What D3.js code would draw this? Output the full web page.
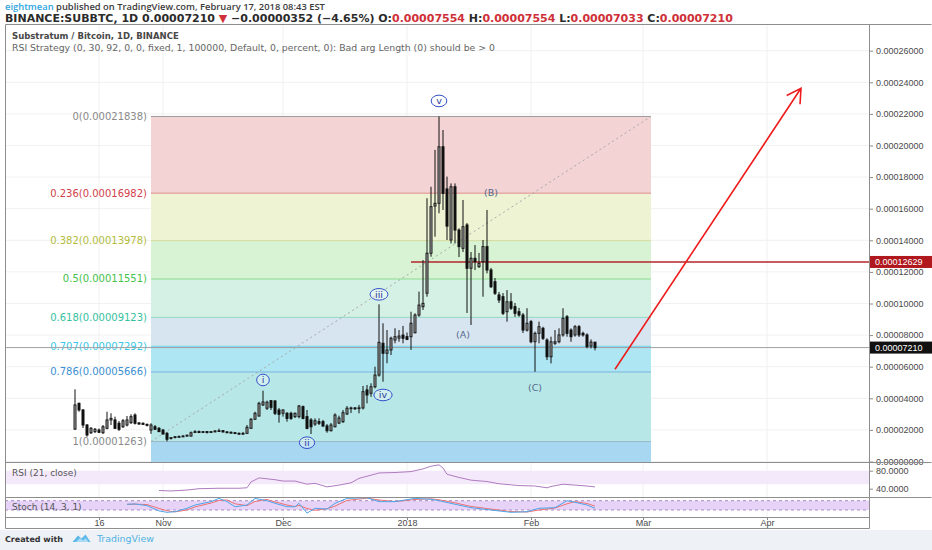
<!DOCTYPE html>
<html>
<head>
<meta charset="utf-8">
<title>SUBBTC 1D</title>
<script src="https://cdn.jsdelivr.net/npm/d3@7"></script>
<style>
  body { margin: 0; background: #fff; }
  svg { display: block; }
</style>
</head>
<body>
<svg id="chart" width="932" height="550"></svg>
<script>
// prices are in satoshi (1e-8 BTC), one candle per day from firstDay
const firstDay = '2017-10-10';

const opens = [
  2050,3680,3260,2310,1820,1890,1990,1820,2100,2630,
  2630,2420,2200,2310,2460,2940,2440,2420,2350,1990,
  2200,2100,1990,1780,1490,1540,1570,1570,1610,1610,
  1840,1890,1870,1890,1850,1890,1900,1950,1870,1850,
  1820,1780,1760,1780,2100,2670,2880,3580,3370,3850,
  3830,3260,3050,3050,3050,2840,2840,3470,2840,2630,
  2370,2520,2520,2250,1950,2200,2430,2520,3010,3370,
  3390,3370,3390,4530,4320,4730,5470,7480,6850,7060,
  7690,7810,8000,7900,7900,8150,9270,9800,10650,13180,
  16170,16340,19920,17250,14020,17390,14650,13490,14970,12230,
  12860,12330,12650,13600,12120,11380,10540,10430,9480,10110,
  9800,9480,9270,8320,8850,7580,8110,8430,7690,6630,
  7480,7580,8010,9160,8320,8010,8530,8110,8010,7310,
  7554];
const highs = [
  4570,3730,3320,2370,2180,2120,2090,2310,3150,3050,
  2840,2560,2690,2880,2990,3050,2500,2470,2400,2420,
  2310,2180,2060,1870,1550,1610,1650,1680,1710,1900,
  1990,1960,1930,1930,1930,1990,2080,1990,1930,1900,
  1870,1840,1870,2310,2750,3150,3780,4480,3850,3890,
  3890,3390,3300,3130,3150,3100,3580,3540,3260,2750,
  2730,2730,2630,2370,2440,3050,2900,3260,3510,3470,
  3450,3580,4780,4840,4950,6000,9950,8750,8320,7900,
  8430,8320,8580,8160,9480,9380,10750,12750,16660,17390,
  19720,21838,20980,18030,17600,17600,14760,16550,15090,13260,
  13700,13200,14020,15920,12250,11610,10730,10660,10850,10660,
  10030,9720,9400,9700,8960,8220,8850,8530,7800,7900,
  8320,8430,9700,9270,8430,8640,8640,8220,8110,7730,
  7554];
const lows = [
  2000,3150,2120,1570,1740,1800,1800,1740,2040,2310,
  2060,1930,2120,2220,2370,2340,2340,2310,2220,1750,
  1990,1870,1710,1270,1390,1460,1520,1550,1580,1580,
  1800,1800,1800,1770,1800,1840,1870,1840,1800,1770,
  1740,1710,1680,1740,2060,2630,2840,3510,3260,3260,
  2940,2460,2840,2520,2630,2750,2730,2670,2040,1740,
  2250,2310,2180,1820,1900,2160,2370,2440,2940,3070,
  3260,3050,3290,3680,4100,4630,5370,5050,6220,6740,
  7480,7580,7480,7680,7060,8110,9160,9590,10430,12960,
  14230,15710,15920,14020,13800,13800,12940,13260,9400,8640,
  12120,12250,10430,11910,10980,10540,10030,9270,8850,9590,
  9160,9160,8130,8220,7480,5680,7480,7690,6420,6210,
  7370,7480,7900,7900,7580,7900,7880,7900,7160,7160,
  7033];
const closes = [
  3580,3260,2310,1680,2100,2040,1850,2200,2630,2730,
  2100,2040,2580,2630,2840,2420,2370,2350,2290,2310,
  2040,1890,1740,1410,1510,1570,1580,1610,1660,1820,
  1890,1870,1890,1850,1890,1930,1950,1870,1850,1820,
  1780,1760,1780,2160,2670,3050,3680,3770,3750,3430,
  3050,2990,3260,2730,2730,3050,3510,2730,2100,2200,
  2580,2420,2250,1950,2310,2940,2750,3090,3370,3390,
  3370,3400,4420,4210,4730,5470,7540,6850,7060,7800,
  7900,7940,7800,7730,8750,9270,9900,10010,13180,16130,
  16340,19920,16970,14900,17390,14650,13600,14860,12230,12860,
  12650,12540,13600,12120,11060,10650,10220,9380,10110,9700,
  9380,9270,8320,8750,7580,8110,8530,7800,6630,7580,
  7580,8010,9060,8110,7900,8530,8010,8010,7270,7560,
  7210];

// indicator readings, keyed by candle index
const rsiDays   = [21,24,28,31,36,41,43,44,46,48,50,52,55,58,60,63,66,69,71,74,76,80,84,87,89,91,92,93,96,99,103,106,111,115,118,119,122,125,128,130];
const rsiValues = [36,35,37,40,41,41,42,55,64,62,60,57,57,50,52,44,48,53,63,70,75,76,78,84,90,93,86,72,65,59,56,51,47,46,42,45,50,48,46,44];
const stochDays = [13,15,18,21,23,25,28,30,34,36,38,40,43,45,48,50,53,55,56,58,60,63,65,68,73,76,80,85,89,91,95,99,104,109,113,116,120,123,125,128,130];
const stochK    = [57,59,48,14,5,9,31,52,74,95,74,41,52,95,80,63,41,41,63,0,31,26,63,95,99,74,74,95,89,80,57,35,20,5,9,31,35,80,70,52,31];
const stochD    = [56,58,55,30,15,8,20,40,65,82,85,60,48,75,88,72,52,42,50,30,18,28,45,82,96,85,74,88,92,86,66,43,26,10,7,20,33,60,74,62,45];

const timeTicks  = ['2017-10-16','2017-11-01','2017-12-01','2018-01-01','2018-02-01','2018-03-01','2018-04-01'];
const timeLabels = ['16','Nov','Dec','2018','Feb','Mar','Apr'];
const priceTicks = d3.range(0, 26001, 2000);

// fib retracement levels and the prices printed next to them
const fibLevels = [0, 0.236, 0.382, 0.5, 0.618, 0.707, 0.786, 1];
const fibPrices = [21838, 16982, 13978, 11551, 9123, 7292, 5666, 1263];
const fibStart = '2017-10-29', fibEnd = '2018-03-03';

const waveLabels = ['i','ii','iii','iv','v','(A)','(B)','(C)'];
const waveDates  = ['2017-11-26','2017-12-07','2017-12-25','2017-12-26','2018-01-09','2018-01-15','2018-01-22','2018-02-02'];
const wavePrices = [5160, 1190, 10580, 4210, 22820, 8010, 17040, 4700];

const targetPrice = 12629, targetFrom = '2018-01-02';
const lastPrice = 7210;
const arrowDates  = ['2018-02-22', '2018-04-09T12:00:00Z'];
const arrowPrices = [5835, 23620];

// ---------------------------------------------------------------

const frame = {left: 5, right: 869, axisRight: 931, top: 24,
               mainBottom: 462, rsiBottom: 497, stochBottom: 517, axisBottom: 528};
const axisFont = '"Liberation Sans", Arial, sans-serif';
const labelFont = '"DejaVu Sans", Verdana, sans-serif';
const fmtPrice = d => (d / 1e8).toFixed(8);

const svg = d3.select('#chart');
const defs = svg.append('defs');

function clip(id, x0, y0, x1, y1) {
  defs.append('clipPath').attr('id', id).append('rect')
      .attr('x', x0).attr('y', y0).attr('width', x1 - x0).attr('height', y1 - y0);
  return 'url(#' + id + ')';
}
const mainClip  = clip('c-main', frame.left, frame.top, frame.right, frame.mainBottom);
const rsiClip   = clip('c-rsi', frame.left, frame.mainBottom, frame.right, frame.rsiBottom);
const stochClip = clip('c-stoch', frame.left, frame.rsiBottom, frame.right, frame.stochBottom);
const stochAxisClip = clip('c-stoch-axis', frame.right, frame.rsiBottom + 1, frame.axisRight + 1, frame.stochBottom);

const x = d3.scaleUtc()
    .domain([d3.isoParse('2017-10-01'), d3.isoParse('2018-04-01')])
    .range([39, 767]);
const y = d3.scaleLinear().domain([0, 26000]).range([461.5, 50.7]);
const yRsi = d3.scaleLinear().domain([40, 80]).range([488.7, 470.7]);
const yStoch = d3.scaleLinear().domain([0, 100]).range([513.1, 497.6]);

const day0 = d3.isoParse(firstDay);
const candles = opens.map((o, i) => ({
  date: d3.utcDay.offset(day0, i), o: o, h: highs[i], l: lows[i], c: closes[i]
}));

// footer band
svg.append('rect').attr('x', 0).attr('y', 530).attr('width', 932).attr('height', 20).attr('fill', '#eef1f5');

// grid
const grid = svg.append('g').attr('clip-path', mainClip);
grid.selectAll('line.h').data(priceTicks).enter().append('line')
    .attr('x1', frame.left).attr('x2', frame.right)
    .attr('y1', d => y(d)).attr('y2', d => y(d))
    .attr('stroke', '#f1f1f1');
svg.append('g').selectAll('line').data(timeTicks).enter().append('line')
    .attr('x1', d => x(d3.isoParse(d))).attr('x2', d => x(d3.isoParse(d)))
    .attr('y1', frame.top).attr('y2', frame.stochBottom)
    .attr('stroke', '#f0f0f0');

// fibonacci retracement
const fibFills  = ['#f3d3d3','#eef3d3','#d7f3d4','#d5f1e6','#d7e5f1','#aee7f3','#b8e7e7','#a8d8f1'];
const fibLines  = ['#9a9a9a','#e08a8a','#d3da9a','#8fdc91','#8fd9c4','#6fd3ea','#7ab3de','#9ab7c8'];
const fibText   = ['#8a8a8a','#d2404a','#b3bd3c','#44c24a','#36bf9f','#3dc7e8','#3b8fd2','#8a8a8a'];
const fibX0 = x(d3.isoParse(fibStart)), fibX1 = x(d3.isoParse(fibEnd));
// the band under level 1 runs on to the 1.618 extension, off the pane
const fibBelow = fibPrices[7] - 0.618 * (fibPrices[0] - fibPrices[7]);

const fib = svg.append('g').attr('clip-path', mainClip);
fibPrices.forEach((p, i) => {
  const next = i < fibPrices.length - 1 ? fibPrices[i + 1] : fibBelow;
  fib.append('rect')
      .attr('x', fibX0).attr('width', fibX1 - fibX0)
      .attr('y', y(p)).attr('height', y(next) - y(p))
      .attr('fill', fibFills[i]);
});
fib.selectAll('line.lvl').data(fibPrices).enter().append('line')
    .attr('x1', fibX0).attr('x2', fibX1)
    .attr('y1', d => y(d)).attr('y2', d => y(d))
    .attr('stroke', (d, i) => fibLines[i]).attr('stroke-width', 1);
fib.append('line')
    .attr('x1', fibX0).attr('y1', y(fibPrices[7])).attr('x2', fibX1).attr('y2', y(fibPrices[0]))
    .attr('stroke', '#a8a8a8').attr('stroke-dasharray', '2,3');

// last price line
svg.append('line')
    .attr('x1', frame.left).attr('x2', frame.right)
    .attr('y1', y(lastPrice)).attr('y2', y(lastPrice))
    .attr('stroke', '#a0a0a0');

fib.selectAll('text').data(fibLevels).enter().append('text')
    .attr('x', fibX0 - 4).attr('y', (d, i) => y(fibPrices[i])).attr('dy', '0.35em')
    .attr('text-anchor', 'end')
    .style('font-family', labelFont).style('font-size', '10px')
    .attr('fill', (d, i) => fibText[i])
    .text((d, i) => d + '(' + fmtPrice(fibPrices[i]) + ')');

// target level
svg.append('line')
    .attr('x1', x(d3.isoParse(targetFrom))).attr('x2', frame.right)
    .attr('y1', y(targetPrice)).attr('y2', y(targetPrice))
    .attr('stroke', '#b3262b').attr('stroke-width', 1.5);

// candles
const cg = svg.append('g').attr('clip-path', mainClip);
cg.selectAll('line').data(candles).enter().append('line')
    .attr('x1', d => x(d.date)).attr('x2', d => x(d.date))
    .attr('y1', d => y(d.h)).attr('y2', d => y(d.l))
    .attr('stroke', '#111').attr('stroke-width', 1);
cg.selectAll('rect').data(candles).enter().append('rect')
    .attr('x', d => x(d.date) - 1).attr('width', 2)
    .attr('y', d => y(Math.max(d.o, d.c)))
    .attr('height', d => Math.max(Math.abs(y(d.o) - y(d.c)), 0.8))
    .attr('fill', d => d.c >= d.o ? '#a4a4a4' : '#111')
    .attr('stroke', d => d.c >= d.o ? '#1b1b1b' : '#111')
    .attr('stroke-width', 1);

// elliott wave labels
const wg = svg.append('g').attr('clip-path', mainClip);
waveLabels.forEach((lab, i) => {
  const px = x(d3.isoParse(waveDates[i])), py = y(wavePrices[i]);
  const circled = lab[0] !== '(';
  const g = wg.append('g');
  const t = g.append('text')
      .attr('x', px).attr('y', py).attr('dy', '0.35em').attr('text-anchor', 'middle')
      .style('font-family', labelFont).style('font-size', '9.5px')
      .attr('fill', circled ? '#2b3a9e' : '#56698c')
      .text(lab);
  if (circled) {
    const w = t.node().getComputedTextLength();
    g.insert('ellipse', 'text')
        .attr('cx', px).attr('cy', py).attr('rx', w / 2 + 5).attr('ry', 5.8)
        .attr('fill', 'rgba(255,255,255,0.35)').attr('stroke', '#3550c8').attr('stroke-width', 1);
  }
});

// projection arrow
const a0 = [x(d3.isoParse(arrowDates[0])), y(arrowPrices[0])];
const a1 = [x(d3.isoParse(arrowDates[1])), y(arrowPrices[1])];
const ang = Math.atan2(a0[1] - a1[1], a0[0] - a1[0]);
const headLen = 16, headSpread = Math.PI / 6;
const arrow = d3.path();
arrow.moveTo(a0[0], a0[1]); arrow.lineTo(a1[0], a1[1]);
arrow.moveTo(a1[0] + headLen * Math.cos(ang + headSpread), a1[1] + headLen * Math.sin(ang + headSpread));
arrow.lineTo(a1[0], a1[1]);
arrow.lineTo(a1[0] + headLen * Math.cos(ang - headSpread), a1[1] + headLen * Math.sin(ang - headSpread));
svg.append('path').attr('d', arrow.toString())
    .attr('fill', 'none').attr('stroke', '#ee1c1c').attr('stroke-width', 1.6)
    .attr('clip-path', mainClip);

// RSI pane
svg.append('rect').attr('x', frame.left).attr('width', frame.right - frame.left)
    .attr('y', yRsi(80)).attr('height', yRsi(50) - yRsi(80)).attr('fill', '#f4e9fb');
svg.append('path').datum(rsiDays.map((d, i) => [d, rsiValues[i]]))
    .attr('clip-path', rsiClip)
    .attr('fill', 'none').attr('stroke', '#b07cc0').attr('stroke-width', 1)
    .attr('d', d3.line().x(d => x(d3.utcDay.offset(day0, d[0]))).y(d => yRsi(d[1])));

// Stoch pane
svg.append('rect').attr('x', frame.left).attr('width', frame.right - frame.left)
    .attr('y', yStoch(80)).attr('height', yStoch(20) - yStoch(80)).attr('fill', '#e6d3f7');
svg.selectAll('line.band').data([80, 20]).enter().append('line')
    .attr('x1', frame.left).attr('x2', frame.right)
    .attr('y1', d => yStoch(d)).attr('y2', d => yStoch(d))
    .attr('stroke', '#a98bc6').attr('stroke-dasharray', '3,3');
const stochLine = vals => d3.line()
    .x(d => x(d3.utcDay.offset(day0, d)))
    .y((d, i) => yStoch(vals[i]));
svg.append('path').datum(stochDays).attr('clip-path', stochClip)
    .attr('fill', 'none').attr('stroke', '#f07272').attr('stroke-width', 1)
    .attr('d', stochLine(stochD));
svg.append('path').datum(stochDays).attr('clip-path', stochClip)
    .attr('fill', 'none').attr('stroke', '#4ea6ea').attr('stroke-width', 1)
    .attr('d', stochLine(stochK));

svg.append('text').attr('x', 12).attr('y', 473.3).attr('dy', '0.35em')
    .style('font-family', labelFont).style('font-size', '9px').attr('fill', '#555')
    .text('RSI (21, close)');
svg.append('text').attr('x', 12).attr('y', 507.3).attr('dy', '0.35em')
    .style('font-family', labelFont).style('font-size', '9px').attr('fill', '#555')
    .text('Stoch (14, 3, 1)');

// axes
function styleAxis(g) {
  g.select('.domain').remove();
  g.selectAll('line').attr('stroke', '#8a8a8a');
  g.selectAll('text').style('font-family', axisFont).style('font-size', '9px').attr('fill', '#4a4a4a');
}
svg.append('g').attr('transform', 'translate(' + frame.right + ',0)')
    .call(d3.axisRight(y).tickValues(priceTicks).tickSize(4).tickFormat(fmtPrice))
    .call(styleAxis);
svg.append('g').attr('transform', 'translate(' + frame.right + ',0)')
    .call(d3.axisRight(yRsi).tickValues([80, 40]).tickSize(4).tickFormat(d => d.toFixed(4)))
    .call(styleAxis);
svg.append('g').attr('transform', 'translate(' + frame.right + ',0)')
    .attr('clip-path', stochAxisClip)
    .call(d3.axisRight(yStoch).tickValues([100, 0]).tickSize(4).tickFormat(d => d.toFixed(4)))
    .call(styleAxis);
const xAxis = svg.append('g').attr('transform', 'translate(0,' + frame.stochBottom + ')')
    .call(d3.axisBottom(x).tickValues(timeTicks.map(d3.isoParse)).tickSize(3)
        .tickFormat((d, i) => timeLabels[i]))
    .call(styleAxis);
xAxis.selectAll('text').attr('y', 2.5);

// price tags on the scale
[[targetPrice, '#b0181e'], [lastPrice, '#111']].forEach(([p, col]) => {
  svg.append('rect').attr('x', frame.right).attr('y', y(p) - 6).attr('width', frame.axisRight - frame.right + 1)
      .attr('height', 12).attr('fill', col);
  svg.append('text').attr('x', frame.right + 6).attr('y', y(p)).attr('dy', '0.35em')
      .style('font-family', axisFont).style('font-size', '9px').attr('fill', '#fff')
      .text(fmtPrice(p));
});

// frame
const frameLines = [
  [frame.left, frame.top, frame.axisRight, frame.top],
  [frame.left, frame.top, frame.left, frame.axisBottom],
  [frame.right, frame.top, frame.right, frame.axisBottom],
  [frame.left, frame.mainBottom, frame.axisRight, frame.mainBottom],
  [frame.left, frame.rsiBottom, frame.axisRight, frame.rsiBottom],
  [frame.left, frame.stochBottom, frame.right, frame.stochBottom],
  [frame.left, frame.axisBottom, frame.right, frame.axisBottom]
];
svg.append('g').selectAll('line').data(frameLines).enter().append('line')
    .attr('x1', d => d[0] + 0.5).attr('y1', d => d[1] + 0.5)
    .attr('x2', d => d[2] + 0.5).attr('y2', d => d[3] + 0.5)
    .attr('stroke', '#8e8e8e');

// header texts, sized to the widths they take in the original
function fitWidth(t, target) {
  const fs = parseFloat(t.style('font-size'));
  const len = t.node().getComputedTextLength();
  t.style('font-size', (fs * target / len).toFixed(2) + 'px');
}
const headFont = '"DejaVu Sans", Verdana, sans-serif';
const red = '#cf2f38';

const h1 = svg.append('text').attr('x', 5).attr('y', 6.5).attr('dy', '0.35em')
    .style('font-family', '"Open Sans", sans-serif').style('font-size', '9px')
    .style('font-weight', 600).attr('fill', '#3b3b3b');
h1.append('tspan').attr('fill', '#2fa6e0').text('eightmean');
h1.append('tspan').text(' published on TradingView.com, February 17, 2018 08:43 EST');
fitWidth(h1, 320);

const h2 = svg.append('text').attr('x', 5).attr('y', 17.8).attr('dy', '0.35em')
    .style('font-family', headFont).style('font-size', '10px').style('font-weight', 700)
    .attr('fill', '#2b2b2b');
h2.append('tspan').text('BINANCE:SUBBTC, 1D ');
h2.append('tspan').text('0.00007210 ');
h2.append('tspan').attr('fill', red).text('▼');
h2.append('tspan').text(' −0.00000352 (−4.65%) ');
[['O:', '0.00007554'], [' H:', '0.00007554'], [' L:', '0.00007033'], [' C:', '0.00007210']].forEach(([k, v]) => {
  h2.append('tspan').text(k);
  h2.append('tspan').attr('fill', red).text(v);
});
fitWidth(h2, 728);

const t1 = svg.append('text').attr('x', 12).attr('y', 36).attr('dy', '0.35em')
    .style('font-family', headFont).style('font-size', '10px').style('font-weight', 700).attr('fill', '#474747')
    .text('Substratum / Bitcoin, 1D, BINANCE');
fitWidth(t1, 167);
const t2 = svg.append('text').attr('x', 12).attr('y', 47.3).attr('dy', '0.35em')
    .style('font-family', headFont).style('font-size', '10px').attr('fill', '#666')
    .text('RSI Strategy (0, 30, 92, 0, 0, fixed, 1, 100000, Default, 0, percent, 0): Bad arg Length (0) should be > 0');
fitWidth(t2, 483);

// footer
const f1 = svg.append('text').attr('x', 5).attr('y', 539).attr('dy', '0.35em')
    .style('font-family', headFont).style('font-size', '10px').style('font-weight', 700).attr('fill', '#333')
    .text('Created with');
fitWidth(f1, 58);
svg.append('path')
    .attr('d', 'M72.5,542 L78,535.5 L81.5,538.5 L85.5,534.5 L90.5,542 Z')
    .attr('fill', '#5bb8e8');
svg.append('path')
    .attr('d', 'M76,542 L80,538 L83,540.5 L85.5,538 L88.5,542 Z')
    .attr('fill', '#a9dcf4');
const f2 = svg.append('text').attr('x', 97).attr('y', 539).attr('dy', '0.35em')
    .style('font-family', headFont).style('font-size', '10px').attr('fill', '#4fb1e4')
    .text('TradingView');
fitWidth(f2, 57);
</script>
</body>
</html>
